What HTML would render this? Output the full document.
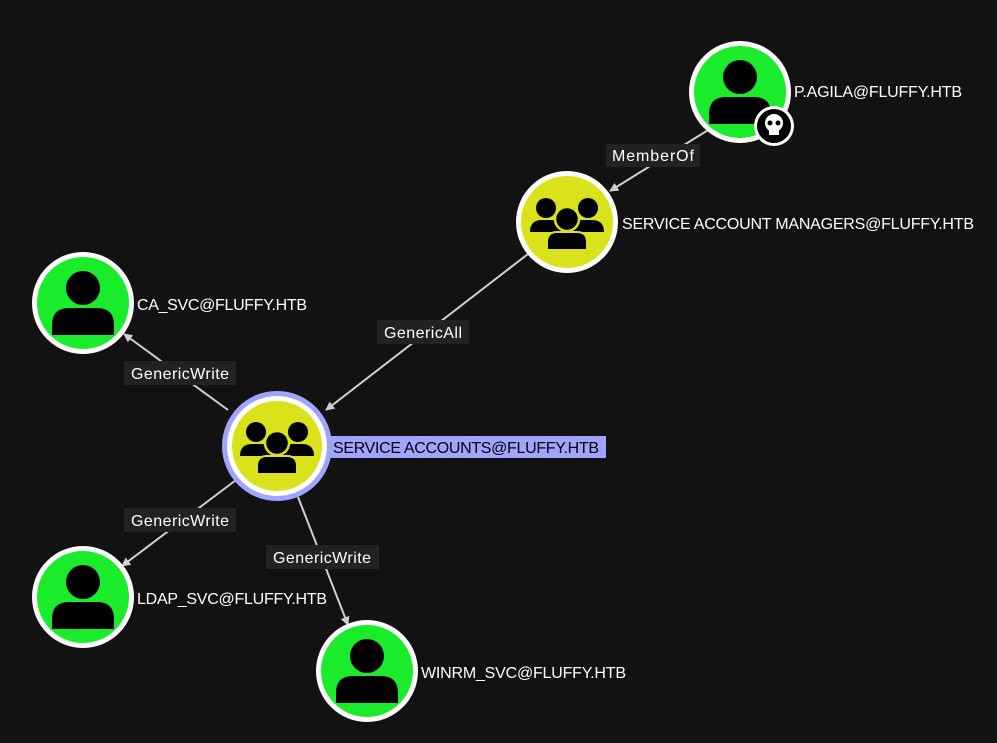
<!DOCTYPE html>
<html><head><style>
body{margin:0;background:#121212;}
svg{display:block;font-family:"Liberation Sans",sans-serif;}
</style></head><body>
<svg width="997" height="743" viewBox="0 0 997 743">
<defs>
<marker id="a" viewBox="0 0 10 10" refX="9" refY="5" markerWidth="9" markerHeight="9" orient="auto" markerUnits="userSpaceOnUse"><path d="M0,0L10,5L0,10z" fill="#d0d0d0"/></marker>
<g id="user"><circle cx="0" cy="-15" r="17" fill="#000"/><path d="M-31,32 L-31,22 Q-31,5 -14,5 L14,5 Q31,5 31,22 L31,32 Z" fill="#000"/></g>
<g id="grp"><circle cx="-21" cy="-14" r="10" fill="#000"/><circle cx="21" cy="-14" r="10" fill="#000"/><path d="M-37,10 Q-37,-2 -25,-2 L-15,-2 Q-6,-2 -6,10Z M37,10 Q37,-2 25,-2 L15,-2 Q6,-2 6,10Z" fill="#000"/><circle cx="0" cy="-3" r="12" fill="#000" stroke="#d9e21a" stroke-width="2.5"/><path d="M-20,28 L-20,20 Q-20,10 -10,10 L10,10 Q20,10 20,20 L20,28Z" fill="#000" stroke="#d9e21a" stroke-width="2"/></g>
</defs>
<g stroke="#d0d0d0" stroke-width="2" marker-end="url(#a)">
<line x1="713" y1="127" x2="610" y2="191"/>
<line x1="528" y1="254" x2="326" y2="410"/>
<line x1="228" y1="410" x2="124" y2="334"/>
<line x1="236" y1="480" x2="122" y2="566"/>
<line x1="298" y1="497" x2="348" y2="625"/>
</g>
<g font-size="16" fill="#fff">
<rect x="606" y="144" width="94" height="23" fill="#222"/><text x="653" y="161" text-anchor="middle" textLength="82">MemberOf</text>
<rect x="377" y="320" width="92" height="24" fill="#222"/><text x="423" y="338" text-anchor="middle" textLength="78">GenericAll</text>
<rect x="124" y="361" width="112" height="24" fill="#222"/><text x="180" y="379" text-anchor="middle" textLength="98">GenericWrite</text>
<rect x="124" y="508" width="112" height="24" fill="#222"/><text x="180" y="526" text-anchor="middle" textLength="98">GenericWrite</text>
<rect x="266" y="545" width="113" height="24" fill="#222"/><text x="322" y="563" text-anchor="middle" textLength="98">GenericWrite</text>
</g>
<g>
<circle cx="740" cy="92" r="51" fill="#fff"/><circle cx="740" cy="92" r="46" fill="#1aeb2a"/><use href="#user" x="740" y="92"/>
<circle cx="774" cy="126" r="20" fill="#fff"/><circle cx="774" cy="126" r="17" fill="#000"/>
<circle cx="774" cy="123" r="9" fill="#fff"/><rect x="769" y="128" width="10" height="7" fill="#fff"/>
<circle cx="770" cy="123" r="2.5" fill="#000"/><circle cx="778" cy="123" r="2.5" fill="#000"/>
<circle cx="567" cy="222" r="51" fill="#fff"/><circle cx="567" cy="222" r="46" fill="#d9e21a"/><use href="#grp" x="567" y="222"/>
<circle cx="83" cy="303" r="51" fill="#fff"/><circle cx="83" cy="303" r="46" fill="#1aeb2a"/><use href="#user" x="83" y="303"/>
<circle cx="277" cy="446" r="55" fill="#9fa5ff"/><circle cx="277" cy="446" r="50" fill="#fff"/><circle cx="277" cy="446" r="45" fill="#d9e21a"/><use href="#grp" x="277" y="446"/>
<circle cx="83" cy="597" r="51" fill="#fff"/><circle cx="83" cy="597" r="46" fill="#1aeb2a"/><use href="#user" x="83" y="597"/>
<circle cx="367" cy="671" r="51" fill="#fff"/><circle cx="367" cy="671" r="46" fill="#1aeb2a"/><use href="#user" x="367" y="671"/>
</g>
<g font-size="16" fill="#fff">
<text x="794" y="97" textLength="168">P.AGILA@FLUFFY.HTB</text>
<text x="622" y="229" textLength="352">SERVICE ACCOUNT MANAGERS@FLUFFY.HTB</text>
<text x="137" y="310" textLength="170">CA_SVC@FLUFFY.HTB</text>
<rect x="330" y="436" width="276" height="22" fill="#9fa5ff"/>
<text x="333" y="453" fill="#000" textLength="266">SERVICE ACCOUNTS@FLUFFY.HTB</text>
<text x="137" y="604" textLength="190">LDAP_SVC@FLUFFY.HTB</text>
<text x="421" y="678" textLength="205">WINRM_SVC@FLUFFY.HTB</text>
</g>
</svg>
</body></html>
